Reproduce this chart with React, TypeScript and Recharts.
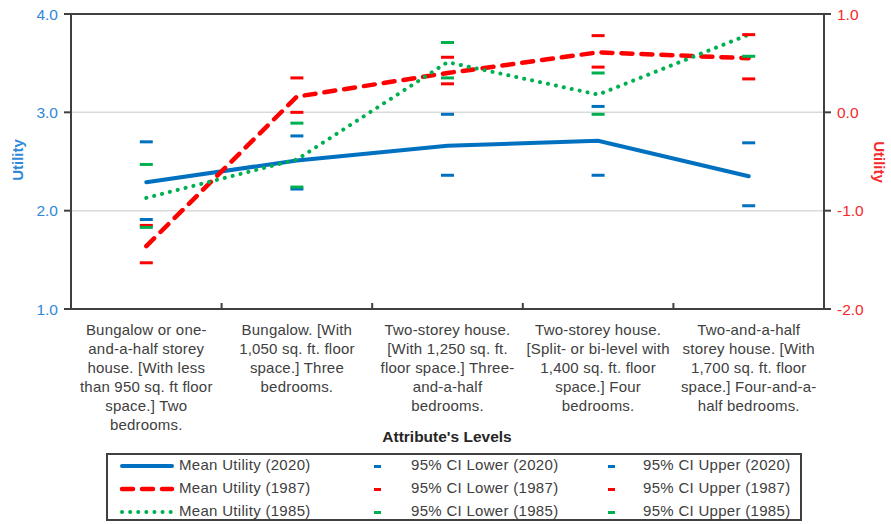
import { CartesianGrid, ComposedChart, Line, ReferenceLine, XAxis, YAxis } from "recharts";

// x-axis labels, one array of wrapped lines per attribute level
const levels = [
  ["Bungalow or one-", "and-a-half storey", "house. [With less", "than 950 sq. ft floor", "space.] Two", "bedrooms."],
  ["Bungalow. [With", "1,050 sq. ft. floor", "space.] Three", "bedrooms."],
  ["Two-storey house.", "[With 1,250 sq. ft.", "floor space.] Three-", "and-a-half", "bedrooms."],
  ["Two-storey house.", "[Split- or bi-level with", "1,400 sq. ft. floor", "space.] Four", "bedrooms."],
  ["Two-and-a-half", "storey house. [With", "1,700 sq. ft. floor", "space.] Four-and-a-", "half bedrooms."],
];

// 2020 on the left axis, 1987 and 1985 on the right axis
const mean2020 = [2.29, 2.51, 2.66, 2.71, 2.35];
const lower2020 = [1.91, 2.22, 2.36, 2.36, 2.05];
const upper2020 = [2.7, 2.76, 2.98, 3.06, 2.69];

const mean1987 = [-1.36, 0.16, 0.4, 0.61, 0.55];
const lower1987 = [-1.53, 0.0, 0.29, 0.46, 0.34];
const upper1987 = [-1.15, 0.35, 0.56, 0.78, 0.79];

const mean1985 = [-0.87, -0.48, 0.51, 0.18, 0.79];
const lower1985 = [-1.17, -0.76, 0.35, -0.02, 0.57];
const upper1985 = [-0.53, -0.11, 0.71, 0.4, null];

const leftTicks = [1, 2, 3, 4];
const rightTicks = [-2, -1, 0, 1];
const xTicks = [1, 1.5, 2, 2.5, 3, 3.5, 4, 4.5, 5];

const rows = levels.map((_, i) => ({
  x: i + 1,
  mean2020: mean2020[i],
  lower2020: lower2020[i],
  upper2020: upper2020[i],
  mean1987: mean1987[i],
  lower1987: lower1987[i],
  upper1987: upper1987[i],
  mean1985: mean1985[i],
  lower1985: lower1985[i],
  upper1985: upper1985[i],
}));

const BLUE = "#0070C0";
const RED = "#FF0000";
const GREEN = "#00B050";
const TEXT = "#404040";
const FONT = "'Liberation Sans', Arial, sans-serif";

const meanStyle = {
  2020: { stroke: BLUE, strokeWidth: 4, strokeDasharray: undefined, strokeLinecap: "round" as const },
  1987: { stroke: RED, strokeWidth: 4.5, strokeDasharray: "11 9", strokeLinecap: "round" as const },
  1985: { stroke: GREEN, strokeWidth: 4, strokeDasharray: "0.1 8", strokeLinecap: "round" as const },
};

const years = ["2020", "1987", "1985"] as const;
const yearColor: Record<string, string> = { "2020": BLUE, "1987": RED, "1985": GREEN };

function dash(color: string) {
  return (p: any) => {
    if (p.cy == null || p.cx == null) return <g key={p.key} />;
    return <rect key={p.key} x={p.cx - 6.5} y={p.cy - 1.5} width={13} height={3} fill={color} />;
  };
}

function LevelTick(props: any) {
  const { x, y, payload } = props;
  const v = payload.value as number;
  if (!Number.isInteger(v)) {
    return <line x1={x} x2={x} y1={y} y2={y - 6} stroke={TEXT} strokeWidth={2} />;
  }
  const lines = levels[v - 1];
  return (
    <text x={x} y={y} textAnchor="middle" fill={TEXT} fontSize={15} letterSpacing={0.2}>
      {lines.map((l, i) => (
        <tspan key={i} x={x} y={y + 26 + i * 19}>
          {l}
        </tspan>
      ))}
    </text>
  );
}

function LegendSample({ year }: { year: string }) {
  const s = meanStyle[year as keyof typeof meanStyle];
  return (
    <svg width={56} height={10} style={{ display: "block" }}>
      <line x1={3} x2={53} y1={5} y2={5} {...s} />
    </svg>
  );
}

export default function App() {
  return (
    <div
      style={{
        position: "absolute",
        left: 0,
        top: 0,
        width: 891,
        height: 524,
        background: "#fff",
        fontFamily: FONT,
      }}
    >
      <ComposedChart width={891} height={524} data={rows} margin={{ top: 14, right: 0, bottom: 90, left: 0 }}>
        <CartesianGrid yAxisId="left" vertical={false} stroke="#d9d9d9" strokeWidth={1.5} />
        <XAxis
          dataKey="x"
          type="number"
          domain={[0.5, 5.5]}
          ticks={xTicks}
          interval={0}
          allowDecimals
          tickSize={0}
          tickMargin={0}
          tickLine={false}
          tick={<LevelTick />}
          axisLine={{ stroke: TEXT, strokeWidth: 2 }}
          height={125}
        />
        <YAxis
          yAxisId="left"
          domain={[1, 4]}
          ticks={leftTicks}
          tickFormatter={(v: number) => v.toFixed(1)}
          width={71}
          tickSize={7}
          tickMargin={6}
          tickLine={{ stroke: TEXT, strokeWidth: 2 }}
          axisLine={{ stroke: TEXT, strokeWidth: 2 }}
          tick={{ fill: "#2F88D8", fontSize: 15.5 }}
        />
        <YAxis
          yAxisId="right"
          orientation="right"
          domain={[-2, 1]}
          ticks={rightTicks}
          tickFormatter={(v: number) => v.toFixed(1)}
          width={67}
          tickSize={7}
          tickMargin={6}
          tickLine={{ stroke: TEXT, strokeWidth: 2 }}
          axisLine={{ stroke: TEXT, strokeWidth: 2 }}
          tick={{ fill: "#F52A2A", fontSize: 15.5 }}
        />
        <ReferenceLine yAxisId="left" y={4} stroke={TEXT} strokeWidth={2} />

        <Line yAxisId="left" type="linear" dataKey="mean2020" {...meanStyle[2020]} dot={false} activeDot={false} isAnimationActive={false} />
        <Line yAxisId="left" dataKey="lower2020" stroke="none" dot={dash(BLUE)} activeDot={false} isAnimationActive={false} />
        <Line yAxisId="left" dataKey="upper2020" stroke="none" dot={dash(BLUE)} activeDot={false} isAnimationActive={false} />

        <Line yAxisId="right" type="linear" dataKey="mean1987" {...meanStyle[1987]} dot={false} activeDot={false} isAnimationActive={false} />
        <Line yAxisId="right" dataKey="lower1987" stroke="none" dot={dash(RED)} activeDot={false} isAnimationActive={false} />
        <Line yAxisId="right" dataKey="upper1987" stroke="none" dot={dash(RED)} activeDot={false} isAnimationActive={false} />

        <Line yAxisId="right" type="linear" dataKey="mean1985" {...meanStyle[1985]} dot={false} activeDot={false} isAnimationActive={false} />
        <Line yAxisId="right" dataKey="lower1985" stroke="none" dot={dash(GREEN)} activeDot={false} isAnimationActive={false} />
        <Line yAxisId="right" dataKey="upper1985" stroke="none" dot={dash(GREEN)} activeDot={false} isAnimationActive={false} />
      </ComposedChart>

      {/* axis titles */}
      <div
        style={{
          position: "absolute",
          left: 17,
          top: 160,
          transform: "translate(-50%, -50%) rotate(-90deg)",
          color: "#2F88D8",
          fontWeight: "bold",
          fontSize: 15,
        }}
      >
        Utility
      </div>
      <div
        style={{
          position: "absolute",
          left: 879,
          top: 162,
          transform: "translate(-50%, -50%) rotate(90deg)",
          color: "#F52A2A",
          fontWeight: "bold",
          fontSize: 15,
        }}
      >
        Utility
      </div>
      <div
        style={{
          position: "absolute",
          left: 447,
          top: 437,
          transform: "translate(-50%, -50%)",
          color: "#262626",
          fontWeight: "bold",
          fontSize: 15.5,
          whiteSpace: "nowrap",
        }}
      >
        Attribute's Levels
      </div>

      {/* legend */}
      <div
        style={{
          position: "absolute",
          left: 106,
          top: 453,
          width: 692,
          height: 64,
          border: "2px solid #404040",
          color: TEXT,
          fontSize: 15,
          letterSpacing: 0.3,
        }}
      >
        {years.map((y, r) => (
          <div key={y}>
            <div style={{ position: "absolute", left: 11, top: 6 + r * 23 }}>
              <LegendSample year={y} />
            </div>
            <div style={{ position: "absolute", left: 71, top: 1 + r * 23, whiteSpace: "nowrap" }}>
              Mean Utility ({y})
            </div>
            <div
              style={{ position: "absolute", left: 266, top: 10 + r * 23, width: 7, height: 3, background: yearColor[y] }}
            />
            <div style={{ position: "absolute", left: 303, top: 1 + r * 23, whiteSpace: "nowrap" }}>
              95% CI Lower ({y})
            </div>
            <div
              style={{ position: "absolute", left: 500, top: 10 + r * 23, width: 7, height: 3, background: yearColor[y] }}
            />
            <div style={{ position: "absolute", left: 535, top: 1 + r * 23, whiteSpace: "nowrap" }}>
              95% CI Upper ({y})
            </div>
          </div>
        ))}
      </div>
    </div>
  );
}
